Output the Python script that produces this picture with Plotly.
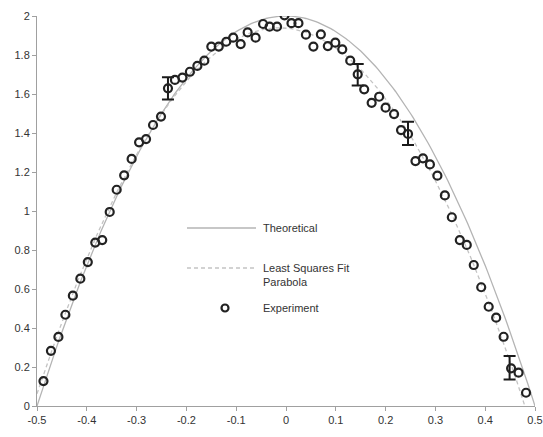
import numpy as np
import plotly.graph_objects as go

exp_x = [-0.487, -0.472, -0.457, -0.443, -0.428, -0.413, -0.398, -0.383, -0.369, -0.354,
         -0.340, -0.325, -0.310, -0.295, -0.281, -0.267, -0.251, -0.237, -0.223, -0.208,
         -0.193, -0.178, -0.164, -0.150, -0.135, -0.120, -0.106, -0.091, -0.077, -0.061,
         -0.046, -0.033, -0.018, -0.003, 0.011, 0.025, 0.040, 0.055, 0.070, 0.084,
         0.099, 0.113, 0.129, 0.144, 0.157, 0.172, 0.187, 0.200, 0.217, 0.231,
         0.245, 0.260, 0.275, 0.289, 0.304, 0.319, 0.333, 0.349, 0.363, 0.377,
         0.392, 0.407, 0.422, 0.437, 0.452, 0.467, 0.482]
exp_y = [0.128, 0.283, 0.354, 0.468, 0.566, 0.653, 0.738, 0.838, 0.851, 0.995,
         1.109, 1.183, 1.267, 1.352, 1.369, 1.441, 1.484, 1.629, 1.672, 1.684,
         1.714, 1.744, 1.771, 1.843, 1.843, 1.868, 1.889, 1.856, 1.916, 1.889,
         1.959, 1.945, 1.945, 2.003, 1.963, 1.963, 1.904, 1.843, 1.906, 1.846,
         1.863, 1.829, 1.771, 1.701, 1.624, 1.555, 1.586, 1.530, 1.497, 1.415,
         1.395, 1.256, 1.270, 1.239, 1.181, 1.080, 0.968, 0.851, 0.826, 0.723,
         0.609, 0.509, 0.453, 0.355, 0.193, 0.171, 0.068]
# error bars (only on a few points)
err_x = [-0.237, 0.144, 0.245, 0.449]
err_y = [1.629, 1.699, 1.398, 0.196]
err_v = [0.057, 0.055, 0.060, 0.060]

# Theoretical parabola coefficients (highest power first): y = 2 - 8x^2
theory_coef = [-8.0, 0.0, 2.0]
fit_coef = np.polyfit(exp_x, exp_y, 2)

xs = np.linspace(-0.5, 0.5, 201)
theory_y = np.polyval(theory_coef, xs)
fit_y = np.polyval(fit_coef, xs)

fig = go.Figure()
fig.add_trace(go.Scatter(x=xs, y=theory_y, mode="lines",
                         line=dict(color="#b4b4b4", width=1.3), name="Theoretical",
                         showlegend=False, hoverinfo="skip"))
fig.add_trace(go.Scatter(x=xs, y=fit_y, mode="lines",
                         line=dict(color="#c4c4c4", width=1.3, dash="4px,3px"),
                         name="Least Squares Fit Parabola", showlegend=False,
                         hoverinfo="skip"))
fig.add_trace(go.Scatter(x=err_x, y=err_y, mode="markers",
                         marker=dict(size=1, color="rgba(0,0,0,0)"),
                         error_y=dict(type="data", array=err_v, visible=True,
                                      color="#1a1a1a", thickness=2, width=6),
                         showlegend=False, hoverinfo="skip"))
fig.add_trace(go.Scatter(x=exp_x, y=exp_y, mode="markers",
                         marker=dict(symbol="circle-open", size=8, color="#222222",
                                     line=dict(width=2.2, color="#222222")),
                         name="Experiment", showlegend=False))

# Manual legend (drawn in paper coordinates)
PLOT_L, PLOT_W = 37, 498
PLOT_B, PLOT_H = 406, 390

def px_x(p):
    return (p - PLOT_L) / PLOT_W

def px_y(p):
    return (PLOT_B - p) / PLOT_H

legend_font = dict(family="Liberation Sans, Arial, sans-serif", size=11, color="#333333")
fig.add_shape(type="line", xref="paper", yref="paper",
              x0=px_x(187), x1=px_x(256), y0=px_y(228), y1=px_y(228),
              line=dict(color="#b4b4b4", width=1.3))
fig.add_shape(type="line", xref="paper", yref="paper",
              x0=px_x(187), x1=px_x(256), y0=px_y(268), y1=px_y(268),
              line=dict(color="#c4c4c4", width=1.3, dash="4px,3px"))
fig.add_annotation(xref="paper", yref="paper", x=px_x(261), y=px_y(228),
                   text="Theoretical", showarrow=False, xanchor="left", yanchor="middle",
                   font=legend_font)
fig.add_annotation(xref="paper", yref="paper", x=px_x(261), y=px_y(275),
                   text="Least Squares Fit<br>Parabola", showarrow=False, xanchor="left",
                   yanchor="middle", align="left", font=legend_font)
fig.add_annotation(xref="paper", yref="paper", x=px_x(261), y=px_y(308),
                   text="Experiment", showarrow=False, xanchor="left", yanchor="middle",
                   font=legend_font)
fig.add_shape(type="circle", xref="paper", yref="paper",
              x0=px_x(221.5), x1=px_x(228.5), y0=px_y(304.5), y1=px_y(311.5),
              line=dict(color="#222222", width=2.2))

tick_font = dict(family="Liberation Sans, Arial, sans-serif", size=11, color="#333333")
fig.update_layout(
    width=543, height=437,
    margin=dict(l=37, r=8, t=16, b=31, autoexpand=False),
    paper_bgcolor="white", plot_bgcolor="white",
    showlegend=False,
    xaxis=dict(range=[-0.5, 0.5], tickvals=[-0.5, -0.4, -0.3, -0.2, -0.1, 0, 0.1, 0.2, 0.3, 0.4, 0.5],
               ticktext=["-0.5", "-0.4", "-0.3", "-0.2", "-0.1", "0", "0.1", "0.2", "0.3", "0.4", "0.5"],
               showgrid=False, zeroline=False, showline=True, linecolor="#a0a0a0",
               linewidth=1, ticks="outside", ticklen=4, tickcolor="#a0a0a0",
               tickfont=tick_font, ticklabeloverflow="allow", automargin=False),
    yaxis=dict(range=[0, 2], tickvals=[0, 0.2, 0.4, 0.6, 0.8, 1, 1.2, 1.4, 1.6, 1.8, 2],
               ticktext=["0", "0.2", "0.4", "0.6", "0.8", "1", "1.2", "1.4", "1.6", "1.8", "2"],
               showgrid=False, zeroline=False, showline=True, linecolor="#a0a0a0",
               linewidth=1, ticks="outside", ticklen=4, tickcolor="#a0a0a0",
               tickfont=tick_font, ticklabeloverflow="allow", automargin=False),
)

fig.write_html("out.html")
